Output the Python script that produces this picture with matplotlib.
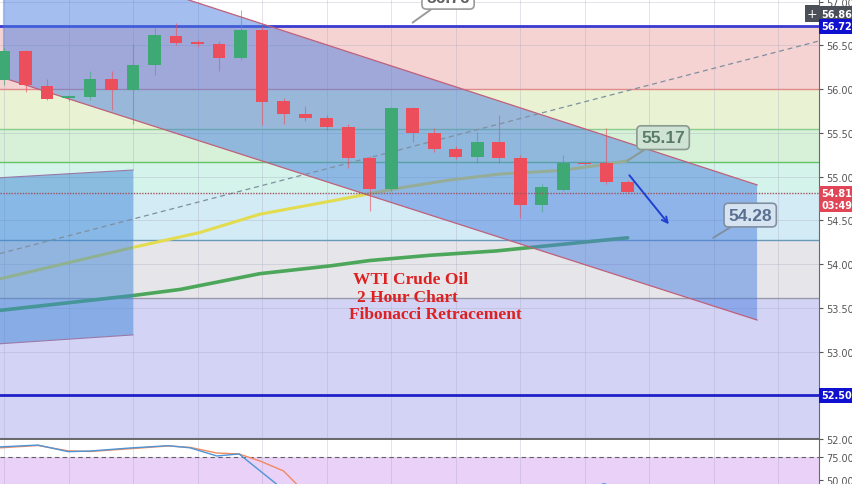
import numpy as np
import matplotlib
matplotlib.use("Agg")
import matplotlib.pyplot as plt

# candles (2h bars), index 0..29
opens  = [56.10, 56.43, 56.03, 55.90, 55.91, 56.11, 55.99, 56.27, 56.61, 56.54,
          56.52, 56.35, 56.68, 55.86, 55.72, 55.67, 55.57, 55.21, 54.86, 55.78,
          55.50, 55.31, 55.22, 55.40, 55.21, 54.67, 54.85, 55.15, 55.15, 54.94]
highs  = [56.47, 56.45, 56.12, 55.93, 56.21, 56.21, 56.52, 56.71, 56.75, 56.56,
          56.55, 56.90, 56.72, 55.90, 55.81, 55.70, 55.60, 55.24, 55.80, 55.80,
          55.55, 55.35, 55.51, 55.70, 55.25, 54.92, 55.25, 55.16, 55.55, 54.96]
lows   = [56.05, 55.97, 55.88, 55.86, 55.88, 55.76, 55.60, 56.16, 56.50, 56.48,
          56.21, 56.33, 55.59, 55.60, 55.64, 55.53, 55.10, 54.61, 54.84, 55.40,
          55.28, 55.20, 55.15, 55.15, 54.53, 54.60, 54.83, 55.13, 54.92, 54.81]
closes = [56.43, 56.05, 55.89, 55.92, 56.11, 55.99, 56.27, 56.62, 56.53, 56.51,
          56.35, 56.68, 55.85, 55.71, 55.67, 55.57, 55.21, 54.86, 55.78, 55.50,
          55.31, 55.22, 55.40, 55.21, 54.67, 54.88, 55.16, 55.14, 54.94, 54.82]

# fibonacci levels and zone colours (top -> bottom)
fib_levels = [56.72, 56.00, 55.54, 55.17, 54.81, 54.28, 53.61, 52.50]
fib_zone_colors = ['#f5d3d3', '#e9f3d3', '#d7f1d9', '#d4f3ea', '#d3ebf5', '#e6e6ea', '#d3d3f5']
fib_line_colors = ['#3a3ad0', '#e08a8a', '#8ccc8c', '#66c266', None, '#6a9ab8', '#9a9aaa', '#2020c8']

# moving averages
ma50_x = [-0.2, 6, 9.1, 11.9, 15.2, 16.7, 18.4, 20.7, 23.1, 25.9, 27.7, 29.0]
ma50_y = [53.83, 54.19, 54.36, 54.57, 54.72, 54.79, 54.87, 54.96, 55.03, 55.07, 55.13, 55.18]
ma200_x = [-0.2, 6.0, 8.2, 11.9, 15.2, 17.0, 19.8, 22.9, 24.5, 29.0]
ma200_y = [53.47, 53.64, 53.71, 53.89, 53.98, 54.04, 54.10, 54.15, 54.19, 54.30]

# drawings
chan_x = [-0.05, 35.02]
chan_upper = [57.71, 54.905]
chan_lower = [56.13, 53.36]
box_x = [-0.3, 6.0]
box_upper = [54.985, 55.075]
box_lower = [53.087, 53.19]
trend_x = [-0.19, 37.9]
trend_y = [54.12, 56.55]
last_price = 54.81

# stochastic panel
stoch_k_x = [-0.19, 1.58, 2.98, 4.0, 5.86, 7.63, 8.65, 9.9, 10.93, 12.7, 13.8]
stoch_k = [86, 88, 80.8, 81.5, 84.8, 87.3, 85, 76.1, 78.3, 45, 30]
stoch_d_x = [-0.19, 1.58, 2.98, 4.0, 5.86, 7.63, 8.65, 9.9, 10.93, 11.9, 13.0, 13.6, 14.2]
stoch_d = [85, 87.5, 81.7, 81, 84, 87, 85.5, 79.3, 78.3, 70.7, 59.8, 45.6, 35]
stoch_k2_x = [27.2, 27.9, 28.6]
stoch_k2 = [40, 46, 40]

XMIN, XMAX = -0.186, 37.9

fig = plt.figure(figsize=(8.52, 4.85), dpi=100)
ax = fig.add_axes([0, 45 / 485, 819 / 852, 440 / 485])
ax.set_xlim(XMIN, XMAX)
ax.set_ylim(52.03, 57.03)

# fib zones
for i, c in enumerate(fib_zone_colors):
    hi = fib_levels[i]
    lo = fib_levels[i + 1] if i + 1 < len(fib_levels) - 1 else 51.5
    ax.axhspan(lo, hi, color=c, lw=0, zorder=0.5)

# grid
for gx in np.arange(0, 37, 3):
    ax.axvline(gx, color='#a0a0b8', lw=0.6, alpha=0.35, zorder=1)
for gy in np.arange(52, 57.01, 0.5):
    ax.axhline(gy, color='#a0a0b8', lw=0.6, alpha=0.35, zorder=1)

for lvl, lc in zip(fib_levels, fib_line_colors):
    if lc is None:
        continue
    w = 2.0 if lvl in (56.72, 52.50) else 1.0
    ax.axhline(lvl, color=lc, lw=w, zorder=1.5)

# moving averages
ax.plot(ma50_x, ma50_y, color='#e2dc4e', lw=2.2, zorder=2, solid_capstyle='round')
ax.plot(ma200_x, ma200_y, color='#4ca75a', lw=2.6, zorder=2, solid_capstyle='round')

# channel
ax.fill([chan_x[0], chan_x[1], chan_x[1], chan_x[0]],
        [chan_upper[0], chan_upper[1], chan_lower[1], chan_lower[0]],
        color='#4a7fe0', alpha=0.5, lw=0, zorder=3)
ax.plot(chan_x, chan_upper, color='#c0607a', lw=0.9, zorder=3.2)
ax.plot(chan_x, chan_lower, color='#c0607a', lw=0.9, zorder=3.2)

ax.fill([box_x[0], box_x[1], box_x[1], box_x[0]],
        [box_upper[0], box_upper[1], box_lower[1], box_lower[0]],
        color='#3f86d6', alpha=0.5, lw=0, zorder=3)
ax.plot(box_x, box_upper, color='#9a7aa8', lw=0.8, zorder=3.2)
ax.plot(box_x, box_lower, color='#9a7aa8', lw=0.8, zorder=3.2)

ax.plot(trend_x, trend_y, color='#7f8fa0', lw=0.9, dashes=(4, 3), zorder=3.5)

# candles
for i in range(len(opens)):
    up = closes[i] >= opens[i]
    c = '#3fa976' if up else '#ec4f5b'
    ax.vlines(i, lows[i], highs[i], color=c, lw=0.8, alpha=0.6, zorder=4)
    lo, hi = min(opens[i], closes[i]), max(opens[i], closes[i])
    ax.bar(i, max(hi - lo, 0.015), bottom=lo, width=0.6, color=c, zorder=4.2)

ax.axhline(last_price, color='#a05560', lw=1.0, ls=(0, (1, 1)), zorder=4.5)

# projection arrow
ax.annotate('', xy=(31.0, 54.43), xytext=(29.0, 55.04),
            arrowprops=dict(arrowstyle='->', color='#2040d0', lw=1.4), zorder=5)

# callouts
def callout(txt, xy, xytext, tc, fc, ec):
    ax.annotate(txt, xy=xy, xytext=xytext, ha='center', va='center',
                fontsize=12.5, fontweight='bold', color=tc, family='Liberation Sans',
                bbox=dict(boxstyle='round,pad=0.25', fc=fc, ec=ec, lw=1.2),
                arrowprops=dict(arrowstyle='-', color=ec, lw=1.4, shrinkA=0, shrinkB=0),
                zorder=6, annotation_clip=False)

callout('56.76', (19.0, 56.76), (20.65, 57.05), '#606060', 'white', '#9a9a9a')
callout('55.17', (28.98, 55.18), (30.65, 55.445), '#5a7a68', '#cfe3d5', '#8a9a90')
callout('54.28', (32.98, 54.30), (34.7, 54.56), '#5a7090', '#d6e4f2', '#8090a0')

# chart caption
cap_font = dict(color='#dd2020', fontsize=12.5, fontweight='bold',
                family='Liberation Serif', va='center', ha='left', zorder=6)
ax.text(16.23, 53.825, 'WTI Crude Oil', **cap_font)
ax.text(16.42, 53.62, '2 Hour Chart', **cap_font)
ax.text(16.05, 53.43, 'Fibonacci Retracement', **cap_font)

# right axis
ax.yaxis.tick_right()
ax.set_yticks(np.arange(52, 57.01, 0.5))
ax.set_yticklabels(['%.2f' % v for v in np.arange(52, 57.01, 0.5)])
ax.tick_params(axis='y', labelsize=7, colors='#555555', length=3, pad=2)
ax.set_xticks([])
for s in ['top', 'left']:
    ax.spines[s].set_visible(False)
ax.spines['right'].set_color('#6a6a6a')
ax.spines['bottom'].set_color('#6a6a6a')
ax.spines['bottom'].set_linewidth(1.5)

# value tags on the price scale
ytf = ax.get_yaxis_transform()
def tag(v, txt, fc):
    ax.text(1.003, v, txt, transform=ytf, ha='left', va='center', fontsize=7,
            fontweight='bold', color='white', zorder=7, clip_on=False,
            bbox=dict(boxstyle='square,pad=0.25', fc=fc, ec='none'))

tag(56.86, '56.86', '#4b4f58')
tag(56.72, '56.72', '#1010d0')
tag(last_price, '54.81', '#e04656')
tag(54.68, '03:49:45', '#e04656')
tag(52.50, '52.50', '#1010d0')
ax.text(0.9915, 56.86, '+', transform=ytf, ha='center', va='center', fontsize=9,
        color='white', zorder=7, bbox=dict(boxstyle='square,pad=0.15', fc='#4b4f58', ec='none'))

# stochastic panel
ax2 = fig.add_axes([0, 0, 819 / 852, 44 / 485])
ax2.set_xlim(XMIN, XMAX)
ax2.set_ylim(45.6, 93.5)
ax2.axhspan(30, 75, color='#e9d1f8', lw=0, zorder=0.5)
for gx in np.arange(0, 37, 3):
    ax2.axvline(gx, color='#a0a0b8', lw=0.6, alpha=0.35, zorder=1)
ax2.axhline(75, color='#606060', lw=0.8, dashes=(4, 3), zorder=1.5)
ax2.plot(stoch_d_x, stoch_d, color='#f08a60', lw=1.0, zorder=2)
ax2.plot(stoch_k_x, stoch_k, color='#4c95d6', lw=1.0, zorder=2.1)
ax2.plot(stoch_k2_x, stoch_k2, color='#4c95d6', lw=1.0, zorder=2.1)
ax2.yaxis.tick_right()
ax2.set_yticks([50, 75])
ax2.set_yticklabels(['50.00', '75.00'])
ax2.tick_params(axis='y', labelsize=7, colors='#555555', length=3, pad=2)
ax2.set_xticks([])
for s in ['top', 'left', 'bottom']:
    ax2.spines[s].set_visible(False)
ax2.spines['right'].set_color('#6a6a6a')

fig.savefig('out.png', dpi=100)
